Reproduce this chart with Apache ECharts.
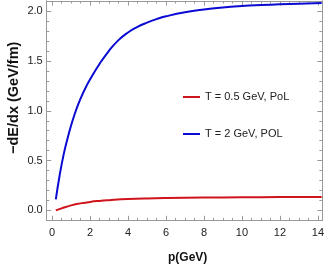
<!DOCTYPE html>
<html><head><meta charset="utf-8">
<script src="https://cdn.jsdelivr.net/npm/echarts@6/dist/echarts.min.js"></script>
<style>html,body{margin:0;padding:0;background:#fff}#c{width:327px;height:273px}</style>
</head><body><div id="c"></div>
<script>
var seriesNames = ['T = 0.5 GeV, PoL', 'T = 2 GeV, POL'];
var redP =   [0.2, 0.5, 1.0, 1.5, 2.0, 2.5, 3.0, 4.0, 5.0, 6.0, 8.0, 10.0, 12.0, 14.2];
var redV =   [0.0, 0.02, 0.05, 0.07, 0.085, 0.095, 0.102, 0.113, 0.12, 0.124, 0.128, 0.131, 0.133, 0.135];
var blueP =  [0.2, 0.4, 0.6, 0.8, 1.0, 1.2, 1.4, 1.6, 1.8, 2.0, 2.5, 3.0, 3.5, 4.0, 4.5, 5.0, 5.5, 6.0, 7.0, 8.0, 9.0, 10.0, 11.0, 12.0, 13.0, 14.2];
var blueV =  [0.11, 0.35, 0.55, 0.71, 0.85, 0.97, 1.074, 1.164, 1.244, 1.314, 1.47, 1.603, 1.71, 1.787, 1.843, 1.886, 1.921, 1.949, 1.99, 2.018, 2.038, 2.052, 2.062, 2.070, 2.076, 2.082];
var xMajor = [0, 2, 4, 6, 8, 10, 12, 14];
var xMinor = [0, 0.5, 1, 1.5, 2, 2.5, 3, 3.5, 4, 4.5, 5, 5.5, 6, 6.5, 7, 7.5, 8, 8.5, 9, 9.5, 10, 10.5, 11, 11.5, 12, 12.5, 13, 13.5, 14];
var yMajor = [0, 0.5, 1.0, 1.5, 2.0];
var yMinor = [-0.1, 0, 0.1, 0.2, 0.3, 0.4, 0.5, 0.6, 0.7, 0.8, 0.9, 1.0, 1.1, 1.2, 1.3, 1.4, 1.5, 1.6, 1.7, 1.8, 1.9, 2.0, 2.1];
var xLabel = 'p(GeV)';
var yLabel = '\u2212dE/dx (GeV/fm)';

function zip(a, b) { return a.map(function (v, i) { return [v, b[i]]; }); }
var XMIN = -0.28, XMAX = 14.21, YMIN = -0.1, YMAX = 2.103;
var lineC = '#999';
var font = 'Liberation Sans';

function xAx(pos, major, showLabel) {
  return {
    type: 'value', min: XMIN, max: XMAX, position: pos,
    axisLine: { show: true, onZero: false, lineStyle: { color: lineC, width: 1 } },
    axisTick: { show: true, inside: true, length: major ? 4.5 : 2.5, customValues: major ? xMajor : xMinor, lineStyle: { color: lineC } },
    axisLabel: { show: showLabel, customValues: xMajor, color: '#222', fontSize: 11, fontFamily: font, margin: 7 },
    splitLine: { show: false }
  };
}
function yAx(pos, major, showLabel) {
  return {
    type: 'value', min: YMIN, max: YMAX, position: pos,
    axisLine: { show: true, onZero: false, lineStyle: { color: lineC, width: 1 } },
    axisTick: { show: true, inside: true, length: major ? 4.5 : 2.5, customValues: major ? yMajor : yMinor, lineStyle: { color: lineC } },
    axisLabel: { show: showLabel, customValues: yMajor, color: '#222', fontSize: 11, fontFamily: font, margin: 4,
      formatter: function (v) { return v.toFixed(1); } },
    splitLine: { show: false }
  };
}

var chart = echarts.init(document.getElementById('c'), null, { renderer: 'canvas' });
chart.setOption({
  animation: false,
  backgroundColor: '#fff',
  grid: { left: 46.7, right: 3.5, top: 1, bottom: 52.7, containLabel: false },
  xAxis: [xAx('bottom', true, true), xAx('bottom', false, false), xAx('top', true, false), xAx('top', false, false)],
  yAxis: [yAx('left', true, true), yAx('left', false, false), yAx('right', true, false), yAx('right', false, false)],
  graphic: [
    { type: 'text', left: 168, top: 252, style: { text: xLabel, font: 'bold 12px "Liberation Sans"', fill: '#111' } },
    { type: 'text', x: 6, y: 154, rotation: Math.PI / 2, style: { text: yLabel, font: 'bold 14.5px "Liberation Sans"', fill: '#111' } }
  ],
  legend: [
    { data: [seriesNames[0]], left: 178, top: 86.5, orient: 'vertical', icon: 'rect', itemWidth: 17, itemHeight: 2, itemGap: 8,
      textStyle: { fontSize: 11, fontFamily: font, color: '#222' } },
    { data: [seriesNames[1]], left: 178, top: 123.5, orient: 'vertical', icon: 'rect', itemWidth: 17, itemHeight: 2, itemGap: 8,
      textStyle: { fontSize: 11, fontFamily: font, color: '#222' } }
  ],
  series: [
    { name: seriesNames[0], type: 'line', data: zip(redP, redV), smooth: 0.5, showSymbol: false, symbol: 'none',
      lineStyle: { color: '#d0141c', width: 2 }, itemStyle: { color: '#d0141c' } },
    { name: seriesNames[1], type: 'line', data: zip(blueP, blueV), smooth: 0.5, showSymbol: false, symbol: 'none',
      lineStyle: { color: '#0a0ad2', width: 2 }, itemStyle: { color: '#0a0ad2' } }
  ]
});
</script></body></html>
